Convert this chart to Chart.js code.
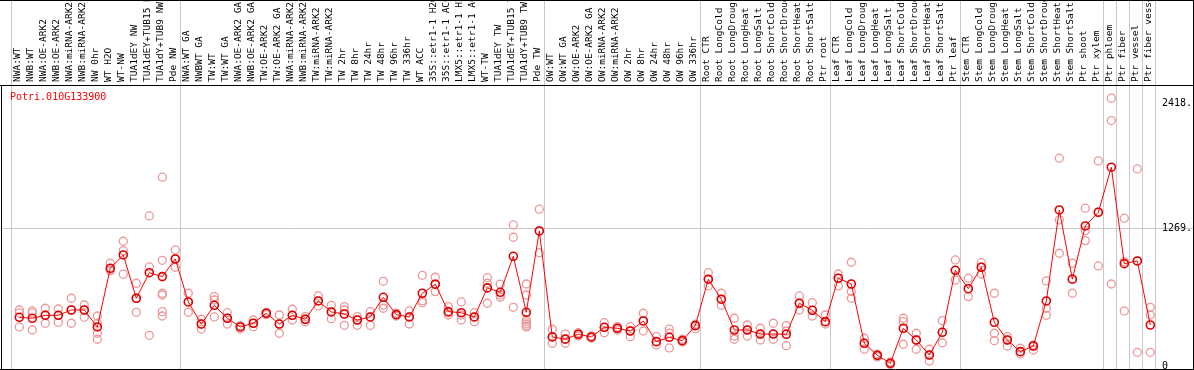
<!DOCTYPE html>
<html>
<head>
<meta charset="utf-8">
<title>Potri.010G133900</title>
<script src="https://cdn.jsdelivr.net/npm/chart.js@4/dist/chart.umd.min.js"></script>
<style>
  html, body { margin: 0; padding: 0; background: #fff; }
</style>
</head>
<body>
<canvas id="chart" width="1194" height="370"></canvas>
<script>
/* Expression profile for one poplar gene across sample conditions */

const GENE_ID = 'Potri.010G133900';

const categories = [
  'NWA:WT', 'NWB:WT', 'NWA:OE-ARK2', 'NWB:OE-ARK2', 'NWA:miRNA-ARK2', 'NWB:miRNA-ARK2',
  'NW 0hr', 'WT H2O', 'WT-NW', 'TUA1dEY NW', 'TUA1dEY+TUB15 NW', 'TUA1dY+TUB9 NW', 'Pde NW',
  'NWA:WT GA', 'NWBWT GA', 'TW:WT', 'TW:WT GA', 'NWA:OE-ARK2 GA', 'NWB:OE-ARK2 GA',
  'TW:OE-ARK2', 'TW:OE-ARK2 GA', 'NWA:miRNA-ARK2', 'NWB:miRNA-ARK2', 'TW:miRNA-ARK2',
  'TW:miRNA-ARK2', 'TW 2hr', 'TW 8hr', 'TW 24hr', 'TW 48hr', 'TW 96hr', 'TW 336hr', 'WT ACC',
  '35S::etr1-1 H2O', '35S::etr1-1 ACC', 'LMX5::etr1-1 H2O', 'LMX5::etr1-1 ACC', 'WT-TW',
  'TUA1dEY TW', 'TUA1dEY+TUB15 TW', 'TUA1dY+TUB9 TW', 'Pde TW',
  'OW:WT', 'OW:WT GA', 'OW:OE-ARK2', 'OW:OE-ARK2 GA', 'OW:miRNA-ARK2', 'OW:miRNA-ARK2',
  'OW 2hr', 'OW 8hr', 'OW 24hr', 'OW 48hr', 'OW 96hr', 'OW 336hr',
  'Root CTR', 'Root LongCold', 'Root LongDrought', 'Root LongHeat', 'Root LongSalt',
  'Root ShortCold', 'Root ShortDrought', 'Root ShortHeat', 'Root ShortSalt', 'Ptr root',
  'Leaf CTR', 'Leaf LongCold', 'Leaf LongDrought', 'Leaf LongHeat', 'Leaf LongSalt',
  'Leaf ShortCold', 'Leaf ShortDrought', 'Leaf ShortHeat', 'Leaf ShortSalt', 'Ptr leaf',
  'Stem CTR', 'Stem LongCold', 'Stem LongDrought', 'Stem LongHeat', 'Stem LongSalt',
  'Stem ShortCold', 'Stem ShortDrought', 'Stem ShortHeat', 'Stem ShortSalt', 'Ptr shoot',
  'Ptr xylem', 'Ptr phloem', 'Ptr fiber', 'Ptr vessel', 'Ptr fiber vessel',
];

// mean expression per sample (the red line)
const meanExpr = [
  448, 439, 466, 466, 515, 515, 359, 899, 1021, 623,
  858, 822, 984, 589, 386, 558, 439, 359, 393, 485,
  386, 466, 430, 598, 497, 478, 423, 451, 632, 472,
  451, 669, 752, 500, 490, 451, 718, 678, 1009, 494,
  1242, 267, 247, 292, 267, 356, 347, 322, 414, 224,
  264, 233, 371, 798, 614, 331, 331, 294, 294, 292,
  577, 512, 408, 807, 754, 209, 98, 25, 347, 239,
  101, 310, 880, 711, 908, 402, 239, 132, 184, 598,
  1435, 798, 1288, 1414, 1828, 941, 966, 377,
];

// individual replicates per sample (pale circles)
const replicates = [
  [515, 488, 359], [506, 488, 331], [531, 469, 393], [524, 466, 402], [623, 515, 393],
  [561, 515, 448], [460, 393, 301, 246], [945, 883, 877], [1147, 1061, 844], [761, 623, 494],
  [1380, 911, 282], [1736, 972, 669, 653, 500, 460], [1067, 984, 908], [669, 589, 494], [430, 386, 340],
  [638, 607, 451], [490, 439, 386], [371, 359, 340], [423, 393, 362], [494, 485, 472],
  [469, 386, 301], [522, 466, 423], [454, 430, 408], [644, 598, 552], [558, 497, 435],
  [546, 515, 374], [454, 423, 374], [500, 451, 374], [779, 561, 531], [485, 472, 460],
  [506, 451, 386], [834, 601, 582], [816, 754, 684], [546, 488, 469], [589, 469, 423],
  [490, 451, 408], [812, 761, 577], [752, 653, 632], [1297, 1184, 540], [754, 653, 423, 405, 386, 368, 359],
  [1442, 1242, 1042], [338, 267, 209], [294, 248, 209], [306, 292, 276], [276, 267, 255],
  [398, 356, 306], [362, 347, 331], [362, 322, 270], [485, 414, 322], [270, 224, 193],
  [340, 301, 166], [246, 233, 221], [384, 371, 343], [858, 798, 736], [669, 614, 558],
  [439, 276, 246], [377, 331, 276], [347, 294, 239], [393, 294, 246], [371, 322, 187],
  [644, 577, 515], [582, 512, 460], [469, 408, 386], [846, 807, 736], [954, 684, 623],
  [255, 209, 154], [110, 98, 83], [37, 25, 14], [439, 408, 200], [301, 239, 154],
  [154, 101, 46], [417, 310, 214], [975, 880, 791], [807, 711, 638], [950, 908, 846],
  [669, 301, 233], [270, 239, 184], [163, 132, 110], [193, 184, 147], [782, 531, 466],
  [1911, 1343, 1037], [945, 798, 669], [1451, 1245, 1153], [1886, 1414, 920], [2463, 2257, 754],
  [1359, 960, 506], [1812, 966, 126], [540, 469, 126],
];

const yTicks = [0, 1269, 2418];
const yGridValue = 1269;

// first sample index of each group; a grey rule separates the groups
const groupStarts = [0, 13, 41, 53, 63, 73, 84, 85, 86, 87, 88];

// ─── Plugins ─────────────────────────────────────────────────────────────────

const MONO = '"DejaVu Sans Mono", "Liberation Mono", monospace';

const groupRules = {
  id: 'groupRules',
  beforeDatasetsDraw(chart) {
    const { ctx, chartArea, scales: { x } } = chart;
    ctx.save();
    ctx.strokeStyle = '#c8c8c8';
    ctx.lineWidth = 1;
    groupStarts.forEach(i => {
      const px = Math.round(x.getPixelForValue(i - 0.65)) + 0.5;
      ctx.beginPath();
      ctx.moveTo(px, 0);
      ctx.lineTo(px, chartArea.bottom);
      ctx.stroke();
    });
    ctx.restore();
  },
};

const frame = {
  id: 'frame',
  afterDraw(chart) {
    const { ctx, chartArea, width } = chart;
    ctx.save();
    ctx.strokeStyle = '#000';
    ctx.lineWidth = 1;
    ctx.beginPath();
    ctx.moveTo(0, 0.5);                      ctx.lineTo(width, 0.5);
    ctx.moveTo(0, chartArea.top + 0.5);      ctx.lineTo(width, chartArea.top + 0.5);
    ctx.moveTo(0, chartArea.bottom + 0.5);   ctx.lineTo(width, chartArea.bottom + 0.5);
    ctx.moveTo(1.5, chartArea.top);          ctx.lineTo(1.5, chartArea.bottom);
    ctx.moveTo(width - 0.5, 0);              ctx.lineTo(width - 0.5, chartArea.bottom + 1);
    ctx.stroke();
    ctx.restore();
  },
};

const geneLabel = {
  id: 'geneLabel',
  afterDatasetsDraw(chart) {
    const { ctx, chartArea } = chart;
    ctx.save();
    ctx.font = `10px ${MONO}`;
    ctx.fillStyle = '#ff0000';
    ctx.textBaseline = 'middle';
    ctx.fillText(GENE_ID, chartArea.left + 9, chartArea.top + 12);
    ctx.restore();
  },
};

// ─── Chart ───────────────────────────────────────────────────────────────────

const meanPoints = meanExpr.map((v, i) => ({ x: i, y: v }));
const repPoints = replicates.flatMap((reps, i) => reps.map(v => ({ x: i, y: v })));

new Chart(document.getElementById('chart'), {
  type: 'scatter',
  data: {
    datasets: [
      {
        label: 'mean',
        data: meanPoints,
        showLine: true,
        borderColor: '#ff0000',
        borderWidth: 1,
        pointRadius: 4,
        pointBorderWidth: 1.6,
        pointBorderColor: '#dd0000',
        pointBackgroundColor: 'rgba(0,0,0,0)',
      },
      {
        label: 'replicates',
        data: repPoints,
        showLine: false,
        pointRadius: 4,
        pointBorderWidth: 1.3,
        pointBorderColor: '#eb9898',
        pointBackgroundColor: 'rgba(0,0,0,0)',
      },
    ],
  },
  options: {
    responsive: false,
    animation: false,
    events: [],
    layout: { autoPadding: false, padding: { left: 1, right: 1, top: 0, bottom: 1 } },
    plugins: { legend: { display: false }, tooltip: { enabled: false } },
    scales: {
      x: {
        type: 'linear',
        position: 'top',
        min: -1.408,
        max: 87.36,
        afterBuildTicks: s => { s.ticks = categories.map((_, i) => ({ value: i })); },
        afterFit: s => {
          s.height = 85;
          s.paddingLeft = 0;
          s.paddingRight = 0;
        },
        grid: { display: false, drawTicks: false },
        border: { display: false },
        ticks: {
          autoSkip: false,
          minRotation: 90,
          maxRotation: 90,
          padding: 3,
          labelOffset: 10,
          color: '#000',
          font: { family: MONO, size: 9.5 },
          callback: v => categories[v],
        },
      },
      y: {
        type: 'linear',
        position: 'right',
        min: -27.6,
        max: 2584,
        afterBuildTicks: s => { s.ticks = yTicks.map(v => ({ value: v })); },
        afterFit: s => {
          s.width = 38;
          s.paddingTop = 0;
          s.paddingBottom = 0;
        },
        grid: {
          drawTicks: true,
          tickLength: 38,
          color: c => (c.tick && c.tick.value === yGridValue ? '#c8c8c8' : 'rgba(0,0,0,0)'),
        },
        border: { display: false },
        ticks: {
          padding: -31,
          color: '#000',
          font: { family: MONO, size: 10 },
          callback: v => (v === 0 ? '0' : `${v}.`),
        },
      },
    },
  },
  plugins: [groupRules, geneLabel, frame],
});
</script>
</body>
</html>
